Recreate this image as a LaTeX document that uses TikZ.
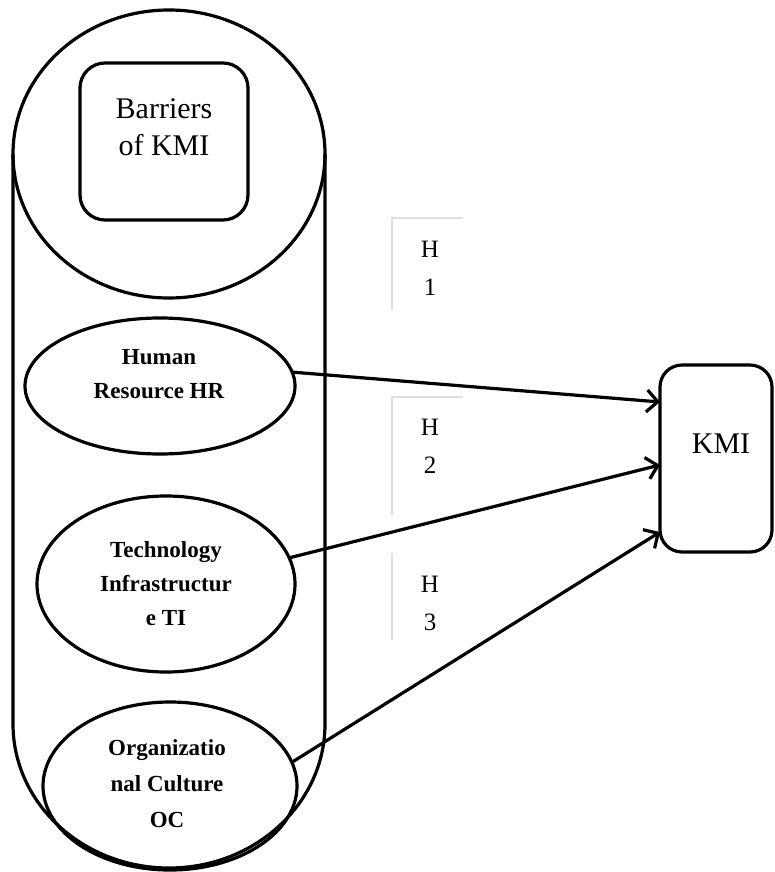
\documentclass[tikz,border=0pt]{standalone}
\usepackage{fontspec}
\setmainfont{Liberation Serif}
\usetikzlibrary{shapes.geometric,arrows.meta,calc}
\begin{document}
\begin{tikzpicture}[x=1pt,y=-1pt,
  thickline/.style={line width=3.2pt},
  oval/.style={ellipse, draw, line width=3.2pt, inner sep=0pt, outer sep=0pt},
  rbox/.style={rectangle, rounded corners=22pt, draw, line width=3.2pt, inner sep=0pt, outer sep=0pt},
  lbl/.style={font=\fontsize{23}{34}\selectfont\bfseries, align=center, anchor=base, inner sep=0pt},
  big/.style={font=\fontsize{30}{37}\selectfont, align=center, anchor=base, inner sep=0pt},
  hlbl/.style={font=\fontsize{25}{38}\selectfont, align=center, anchor=base, inner sep=0pt},
  faint/.style={draw=black!13, line width=1.4pt},
  link/.style={line width=3.2pt, -{Straight Barb[length=11pt,width=22pt]}},
]
\useasboundingbox (0,0) rectangle (774,872);

% cylinder
\node[oval, minimum width=312pt, minimum height=288pt] (top) at (169,154) {};
\draw[thickline] (top.west) -- (13,724) arc[start angle=180,end angle=360,x radius=156pt,y radius=144pt] -- (top.east);

% barriers box
\node[rbox, minimum width=168pt, minimum height=157pt, rounded corners=25pt] (barrier) at (164,141.5) {};
\node[big] (barriertxt) at (164,155) {Barriers\\of KMI};

% factor ellipses
\node[oval, minimum width=270pt, minimum height=136pt] (hr) at (160,386) {};
\node[oval, minimum width=258pt, minimum height=176pt] (ti) at (166,584) {};
\node[oval, minimum width=254pt, minimum height=168pt] (oc) at (170,786) {};
\node[lbl] (hrtxt) at (159,398) {Human\\Resource HR};
\node[lbl] (titxt) at (166,625) {Technology\\Infrastructur\\e TI};
\node[lbl, font=\fontsize{23}{36}\selectfont\bfseries] (octxt) at (167,827) {Organizatio\\nal Culture\\OC};

% KMI box
\node[rbox, minimum width=112pt, minimum height=187pt] (kmi) at (716,458.5) {};
\node[big] (kmitxt) at (721,453) {KMI};

% hypothesis labels
\draw[faint] (463,218) -- (392,218) -- (392,310);
\draw[faint] (463,397) -- (392,397) -- (392,515);
\draw[faint] (392,553) -- (392,640);
\node[hlbl] (h1) at (430,295) {H\\1};
\node[hlbl] (h2) at (430,473) {H\\2};
\node[hlbl] (h3) at (430,630) {H\\3};

% arrows
\draw[link] (hr.6) -- ([yshift=56.5pt]kmi.west);
\draw[link] (ti.12) -- ([yshift=-6.5pt]kmi.west);
\draw[link] (oc.11) -- ([yshift=-73.5pt]kmi.west);
\end{tikzpicture}
\end{document}
